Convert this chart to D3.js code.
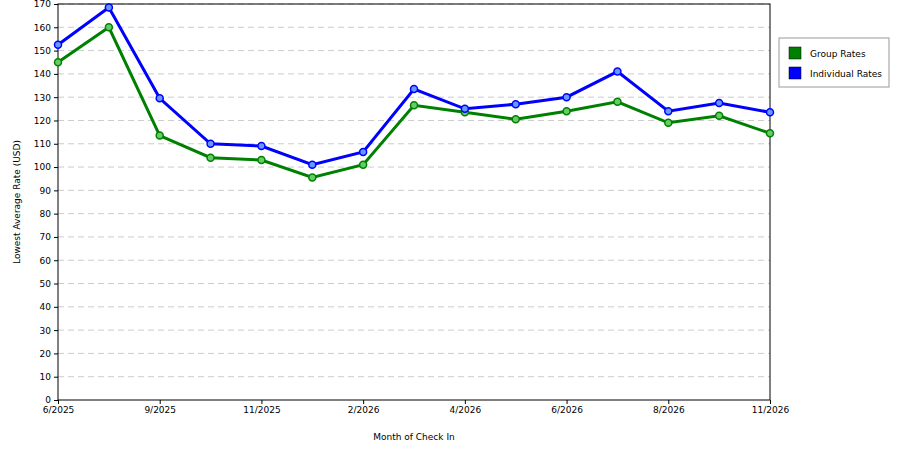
<!DOCTYPE html>
<html><head><meta charset="utf-8">
<script src="https://cdn.jsdelivr.net/npm/d3@7"></script>
<style>body{margin:0;background:#fff}text{font-family:"DejaVu Sans",sans-serif;font-size:9px;fill:#000}</style>
</head><body><div id="chart"></div>
<script>
var tickLabels = ['6/2025','9/2025','11/2025','2/2026','4/2026','6/2026','8/2026','11/2026'];
var groupRates = [145,160,113.5,104,103,95.5,101,126.5,123.5,120.5,124,128,119,122,114.5];
var indivRates = [152.5,168.5,129.5,110,109,101,106.5,133.5,125,127,130,141,124,127.5,123.5];
var series = [
  {name:'Group Rates', values:groupRates, color:'#008000', light:'#6c6'},
  {name:'Individual Rates', values:indivRates, color:'#0000ff', light:'#69f'}
];

var svg = d3.select('#chart').append('svg').attr('width',900).attr('height',450);
var x = d3.scaleLinear().domain([0, groupRates.length-1]).range([58,770]);
var y = d3.scaleLinear().domain([0,170]).range([400,4]);

// grid
svg.append('g').selectAll('line').data(d3.range(10,171,10)).enter().append('line')
  .attr('x1',58).attr('x2',770).attr('y1',y).attr('y2',y)
  .attr('stroke','#ccc').attr('stroke-dasharray','6,4');
svg.append('rect').attr('x',58).attr('y',4).attr('width',712).attr('height',396)
  .attr('fill','none').attr('stroke','#000');

svg.append('g').attr('transform','translate(58,0)')
  .call(d3.axisLeft(y).tickValues(d3.range(0,171,10)).tickSize(4).tickPadding(3))
  .call(function(g){g.select('.domain').remove();});
svg.append('g').attr('transform','translate(0,400)')
  .call(d3.axisBottom(x).tickValues(d3.range(0,15,2)).tickFormat(function(d,i){return tickLabels[i];}).tickSize(4).tickPadding(3))
  .call(function(g){g.select('.domain').remove();});
svg.selectAll('.tick text').style('font-family','DejaVu Sans').style('font-size','9px');

svg.append('text').attr('x',414).attr('y',440).attr('text-anchor','middle').text('Month of Check In');
svg.append('text').attr('transform','translate(20,202) rotate(-90)').attr('text-anchor','middle').text('Lowest Average Rate (USD)');

var line = d3.line().x(function(d,i){return x(i);}).y(function(d){return y(d);});
series.forEach(function(s){
  var g = svg.append('g');
  g.append('path').datum(s.values).attr('d',line).attr('fill','none')
    .attr('stroke',s.color).attr('stroke-width',3);
  g.selectAll('circle').data(s.values).enter().append('circle')
    .attr('cx',function(d,i){return x(i);}).attr('cy',y).attr('r',3.5)
    .attr('fill',s.light).attr('stroke',s.color).attr('stroke-width',1.5);
});

// legend
var lg = svg.append('g');
lg.append('rect').attr('x',779).attr('y',38).attr('width',110).attr('height',49)
  .attr('fill','#fff').attr('stroke','#999');
series.forEach(function(s,i){
  lg.append('rect').attr('x',789).attr('y',47+i*20).attr('width',12).attr('height',12)
    .attr('fill',s.color).attr('stroke','#000').attr('stroke-width',0.5);
  lg.append('text').attr('x',810).attr('y',57+i*20).text(s.name);
});
</script></body></html>
